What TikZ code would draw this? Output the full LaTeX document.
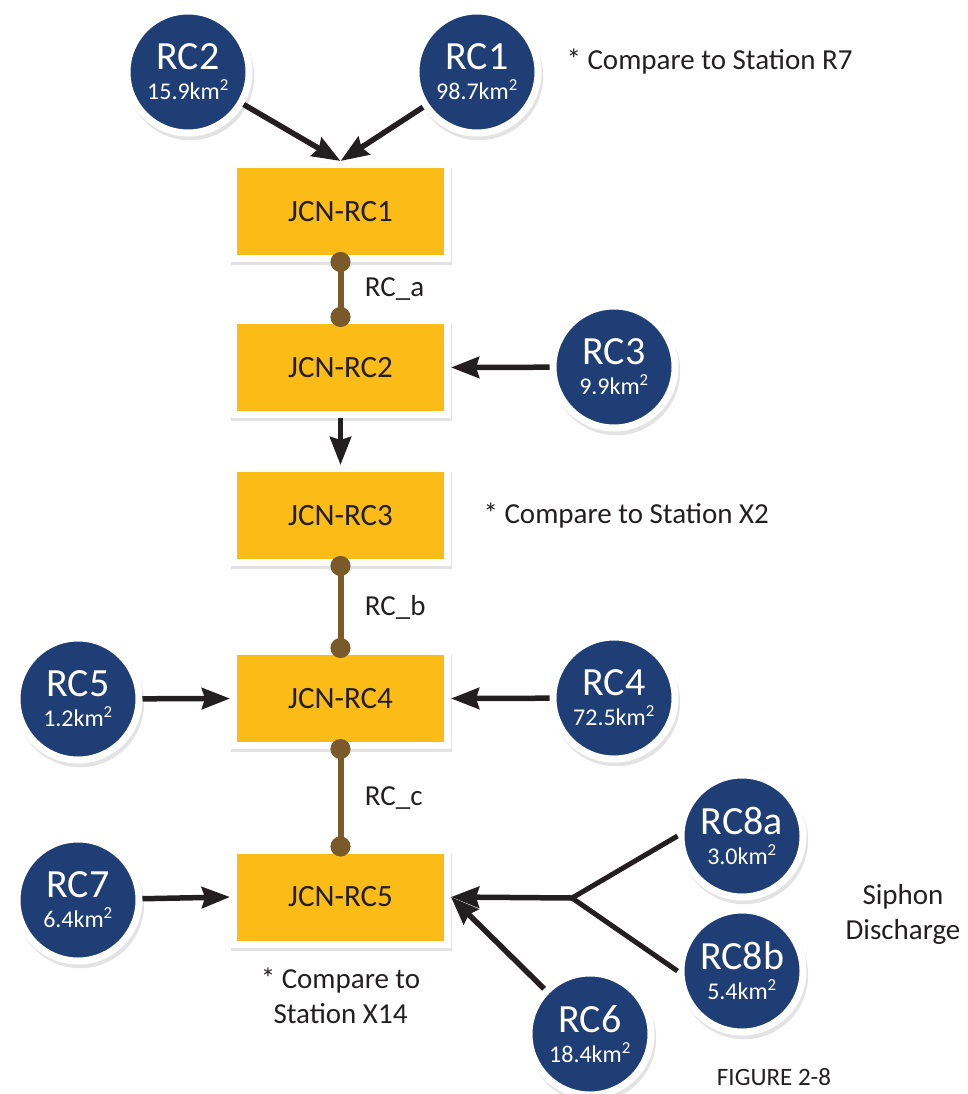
\documentclass[tikz,border=0pt]{standalone}
\usepackage{fontspec}
\setmainfont{Carlito}
\usetikzlibrary{arrows.meta,positioning,shadows}

\definecolor{BasinBlue}{RGB}{31,62,118}
\definecolor{JcnYellow}{RGB}{252,188,24}
\definecolor{ReachBrown}{RGB}{122,90,40}
\definecolor{InkBlack}{RGB}{35,31,32}
\newcommand{\AreaFont}{\fontsize{24}{28}\selectfont}

\begin{document}
\begin{tikzpicture}[
        x=1pt, y=-1pt,
        BasinStyle/.style={circle, fill=BasinBlue, draw=white, line width=7pt, minimum size=122pt, inner sep=0pt, text=white, align=center, font=\fontsize{40}{40}\selectfont, drop shadow={shadow xshift=2pt, shadow yshift=-4pt, shadow scale=1.05, opacity=0.22}},
        JcnStyle/.style={rectangle, fill=JcnYellow, draw=white, line width=7pt, minimum width=214pt, minimum height=94pt, text=InkBlack, font=\fontsize{31}{36}\selectfont, drop shadow={shadow xshift=1pt, shadow yshift=-5pt, shadow scale=1.03, opacity=0.22}},
        NoteStyle/.style={text=InkBlack, font=\fontsize{29}{35}\selectfont, align=center},
        FlowArrow/.style={draw=InkBlack, line width=5.5pt, -{Stealth[length=28pt, width=21pt, inset=3pt]}},
        SplitLine/.style={draw=InkBlack, line width=5pt},
        ReachLine/.style={draw=ReachBrown, line width=6pt, {Circle[length=20pt]}-{Circle[length=20pt]}, shorten <=-10pt, shorten >=-10pt},
        ]
    \useasboundingbox (0,0) rectangle (968,1094);

    % junctions
    \node [JcnStyle] (JCN1) at (340.5,211.5) {JCN-RC1};
    \node [JcnStyle] (JCN2) at (340.5,367.5) {JCN-RC2};
    \node [JcnStyle] (JCN3) at (340.5,515.5) {JCN-RC3};
    \node [JcnStyle] (JCN4) at (340.5,698.5) {JCN-RC4};
    \node [JcnStyle] (JCN5) at (340.5,897) {JCN-RC5};

    % sub-catchments
    \node [BasinStyle] (RC2) at (188,72) {RC2\\[-10pt]{\AreaFont 15.9km\textsuperscript{2}}};
    \node [BasinStyle] (RC1) at (477,72) {RC1\\[-10pt]{\AreaFont 98.7km\textsuperscript{2}}};
    \node [BasinStyle] (RC3) at (614,367) {RC3\\[-10pt]{\AreaFont 9.9km\textsuperscript{2}}};
    \node [BasinStyle] (RC5) at (78,699) {RC5\\[-10pt]{\AreaFont 1.2km\textsuperscript{2}}};
    \node [BasinStyle] (RC4) at (614,698) {RC4\\[-10pt]{\AreaFont 72.5km\textsuperscript{2}}};
    \node [BasinStyle] (RC7) at (78,900) {RC7\\[-10pt]{\AreaFont 6.4km\textsuperscript{2}}};
    \node [BasinStyle] (RC8a) at (742,836) {RC8a\\[-10pt]{\AreaFont 3.0km\textsuperscript{2}}};
    \node [BasinStyle] (RC8b) at (742,971) {RC8b\\[-10pt]{\AreaFont 5.4km\textsuperscript{2}}};
    \node [BasinStyle] (RC6) at (590,1034) {RC6\\[-10pt]{\AreaFont 18.4km\textsuperscript{2}}};
    \coordinate (split) at (572,898);

    % notes
    \node [NoteStyle, anchor=west] (NoteR7) at (563,62) {* Compare to Station R7};
    \node [NoteStyle, right=29pt of JCN3] (NoteX2) {* Compare to Station X2};
    \node [NoteStyle, below=17pt of JCN5] (NoteX14) {* Compare to\\Station X14};
    \node [NoteStyle] (Siphon) at (903,914) {Siphon\\Discharge};
    \node [NoteStyle, font=\fontsize{25}{30}\selectfont] (Fig) at (774,1077) {FIGURE 2-8};

    % flows
    \draw [FlowArrow] (RC2) -- (JCN1.north);
    \draw [FlowArrow] (RC1) -- (JCN1.north);
    \draw [FlowArrow] (RC3) -- (JCN2.east);
    \draw [FlowArrow] (JCN2.south) -- (JCN3.north);
    \draw [FlowArrow] (RC5) -- (JCN4.west);
    \draw [FlowArrow] (RC4) -- (JCN4.east);
    \draw [FlowArrow] (RC7) -- (JCN5.west);
    \draw [FlowArrow] (RC6) -- (JCN5.east);
    \draw [SplitLine] (RC8a.west) -- (split);
    \draw [SplitLine] (RC8b.west) -- (split);
    \draw [FlowArrow] (split) -- (JCN5.east);

    % reaches
    \draw [ReachLine] (JCN1.south) -- (JCN2.north) node [NoteStyle, midway, right=18pt] (ReachA) {RC\_a};
    \draw [ReachLine] (JCN3.south) -- (JCN4.north) node [NoteStyle, midway, right=18pt] (ReachB) {RC\_b};
    \draw [ReachLine] (JCN4.south) -- (JCN5.north) node [NoteStyle, midway, right=18pt] (ReachC) {RC\_c};
\end{tikzpicture}
\end{document}
